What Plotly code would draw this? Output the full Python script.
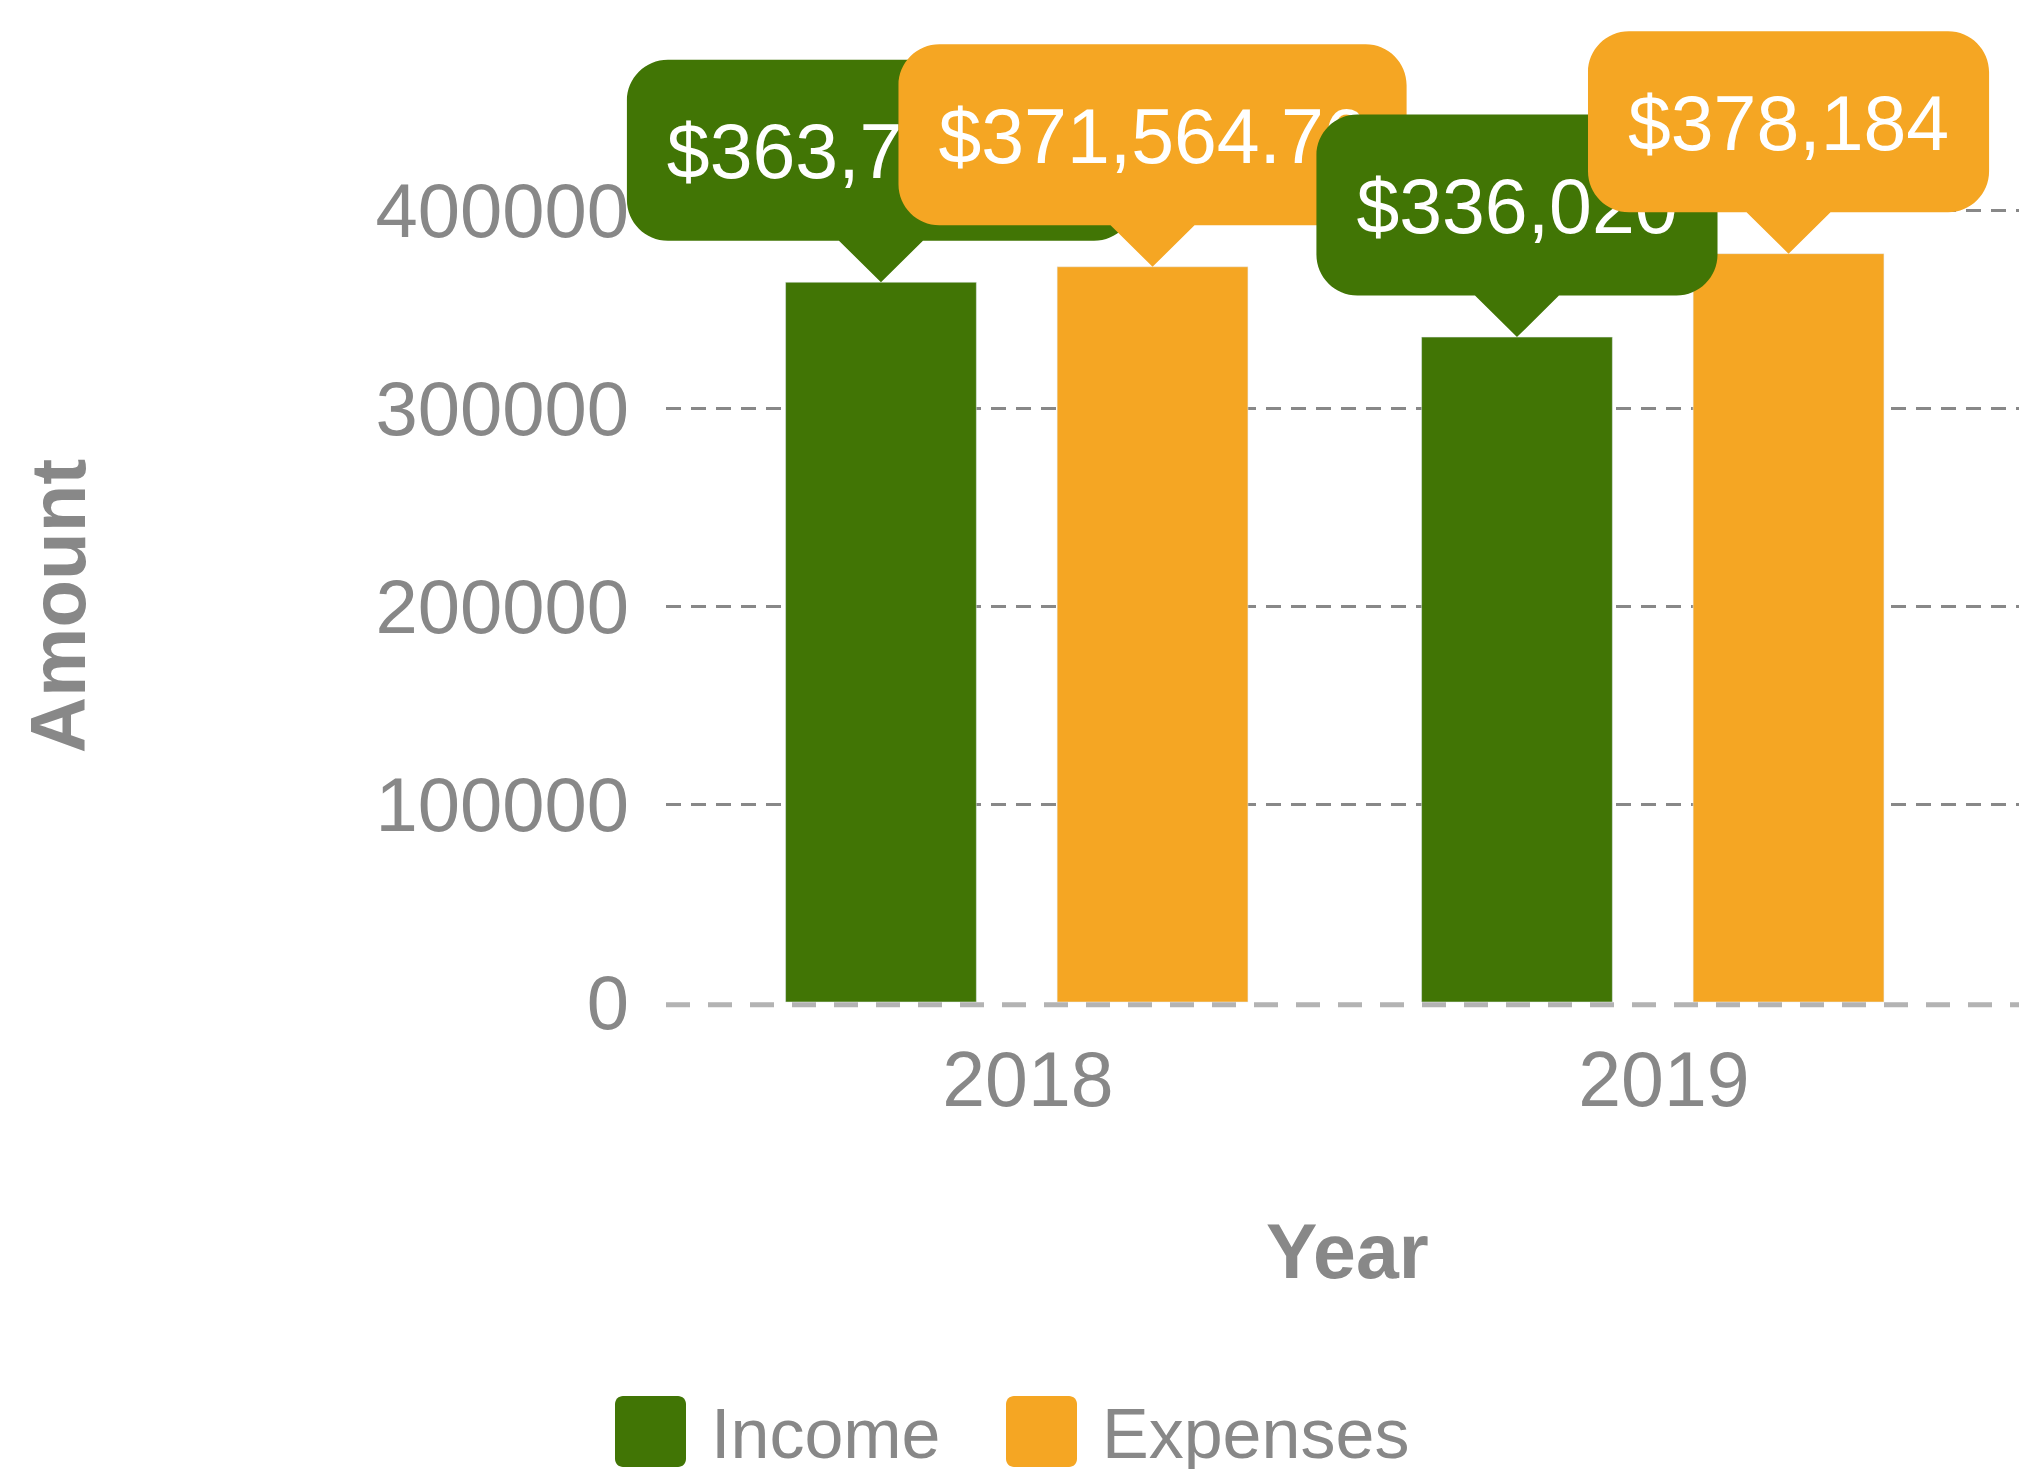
import plotly.graph_objects as go

# data
years = ["2018", "2019"]
series = ["Income", "Expenses"]
income = [363745.19, 336020]
expenses = [371564.76, 378184]
colors = ["#417505", "#F5A623"]
ytick_vals = [0, 100000, 200000, 300000, 400000]

FONT = "Liberation Sans, Arial, sans-serif"
GREY = "#888888"

W, H = 2027, 1469
PAGE = 8                      # page margin around the plot div
ML = 666 - PAGE
MB = H - (1010 - PAGE)
plot_w = W - ML
plot_h = H - MB
ppu = 791.5 / 400000          # pixels per y unit
y_lo = -8 / ppu
y_hi = (plot_h - 8) / ppu
x_lo = -0.569
x_hi = x_lo + plot_w / 636
bar_w = 0.3
offsets = [-0.381, 0.046]
K = 0.5523                    # cubic approximation of a quarter circle


def money(v):
    return f"${v:,.0f}" if v == int(v) else f"${v:,.2f}"


def text_w(s, size):
    return sum((0.278 if c in ",." else 0.556) for c in s) * size


def dx(px):
    return px / plot_w


def dy(px):
    return px / ppu


def round_box(xl, xr, yb, yt, rx, ry, start="", end=""):
    # rounded rectangle outline, y grows upwards
    kx, ky = rx * K, ry * K
    return (f"{start}L{xr - rx},{yb} C{xr - rx + kx},{yb} {xr},{yb + ry - ky} {xr},{yb + ry} "
            f"L{xr},{yt - ry} C{xr},{yt - ry + ky} {xr - rx + kx},{yt} {xr - rx},{yt} "
            f"L{xl + rx},{yt} C{xl + rx - kx},{yt} {xl},{yt - ry + ky} {xl},{yt - ry} "
            f"L{xl},{yb + ry} C{xl},{yb + ry - ky} {xl + rx - kx},{yb} {xl + rx},{yb} {end}")


fig = go.Figure()
for name, vals, col, off in zip(series, [income, expenses], colors, offsets):
    fig.add_trace(go.Bar(x=years, y=vals, name=name, marker_color=col,
                         width=bar_w, offset=off, showlegend=False))

shapes = []
# dashed baseline
shapes.append(dict(type="line", xref="x domain", yref="y", x0=0, x1=1,
                   y0=-dy(2.8), y1=-dy(2.8), layer="above",
                   line=dict(color="#b3b3b3", width=5, dash="24px,18px")))

# callout labels, one per bar, drawn series by series
lab_size = 77
for i, yr in enumerate(years):
    for vals, col, off in zip([income, expenses], colors, offsets):
        v = vals[i]
        txt = money(v)
        tx = (i + off + bar_w / 2 - x_lo) / (x_hi - x_lo)
        ty = v
        hw = dx((text_w(txt, lab_size) + 80) / 2)
        pb = dx(42)
        yb = ty + dy(41.5)
        yt = ty + dy(222.5)
        xl, xr = tx - hw, tx + hw
        path = round_box(xl, xr, yb, yt, dx(41), dy(41),
                         start=f"M{tx},{ty} L{tx + pb},{yb} ",
                         end=f"L{tx - pb},{yb} Z")
        shapes.append(dict(type="path", xref="x domain", yref="y", path=path,
                           fillcolor=col, line=dict(width=0), layer="above"))
        shapes.append(dict(type="rect", xref="x domain", yref="y",
                           x0=xl, x1=xr, y0=yb + dy(6), y1=yt + dy(6),
                           fillcolor="rgba(0,0,0,0)", line=dict(width=0), layer="above",
                           label=dict(text=txt, textposition="middle center",
                                      font=dict(family=FONT, size=lab_size, color="white"))))


# custom legend (positions given in screen pixels)
def fx(px):
    return (px - PAGE - ML) / plot_w


def fy(py):
    return (plot_h - (py - PAGE)) / plot_h


annotations = []
leg_x = [615, 1006]
for name, col, lx in zip(series, colors, leg_x):
    x0, x1, y0, y1 = fx(lx), fx(lx + 71), fy(1467), fy(1396)
    p = round_box(x0, x1, y0, y1, 8 / plot_w, 8 / plot_h,
                  start=f"M{x0 + 8 / plot_w},{y0} ", end="Z")
    shapes.append(dict(type="path", xref="paper", yref="paper", path=p,
                       fillcolor=col, line=dict(width=0)))
    annotations.append(dict(text=name, xref="paper", yref="paper", x=fx(lx + 94),
                            y=fy(1434), xanchor="left", yanchor="middle", showarrow=False,
                            font=dict(family=FONT, size=70, color=GREY)))

# axis titles
annotations.append(dict(text="<b>Amount</b>", xref="paper", yref="y", x=fx(58),
                        y=200000, textangle=-90, showarrow=False, xanchor="center",
                        yanchor="middle", font=dict(family=FONT, size=78, color=GREY)))
annotations.append(dict(text="<b>Year</b>", xref="paper", yref="paper", x=fx(1347),
                        y=fy(1251), showarrow=False, xanchor="center", yanchor="middle",
                        font=dict(family=FONT, size=77, color=GREY)))

fig.update_layout(
    width=W, height=H,
    margin=dict(l=ML, r=0, t=0, b=MB, pad=0),
    barmode="overlay",
    plot_bgcolor="white", paper_bgcolor="white",
    shapes=shapes, annotations=annotations,
    showlegend=False,
)
fig.update_xaxes(type="category", range=[x_lo, x_hi], showgrid=False, zeroline=False,
                 showline=False, ticks="", ticklabelstandoff=18,
                 tickfont=dict(family=FONT, size=77, color=GREY))
fig.update_yaxes(range=[y_lo, y_hi], tickvals=ytick_vals, tickformat="d",
                 showgrid=True, gridcolor=GREY, gridwidth=3, griddash="15px,10px",
                 zeroline=True, zerolinecolor="rgba(0,0,0,0)", showline=False, ticks="",
                 ticklabelstandoff=36,
                 tickfont=dict(family=FONT, size=76, color=GREY))

fig.write_html("out.html")
